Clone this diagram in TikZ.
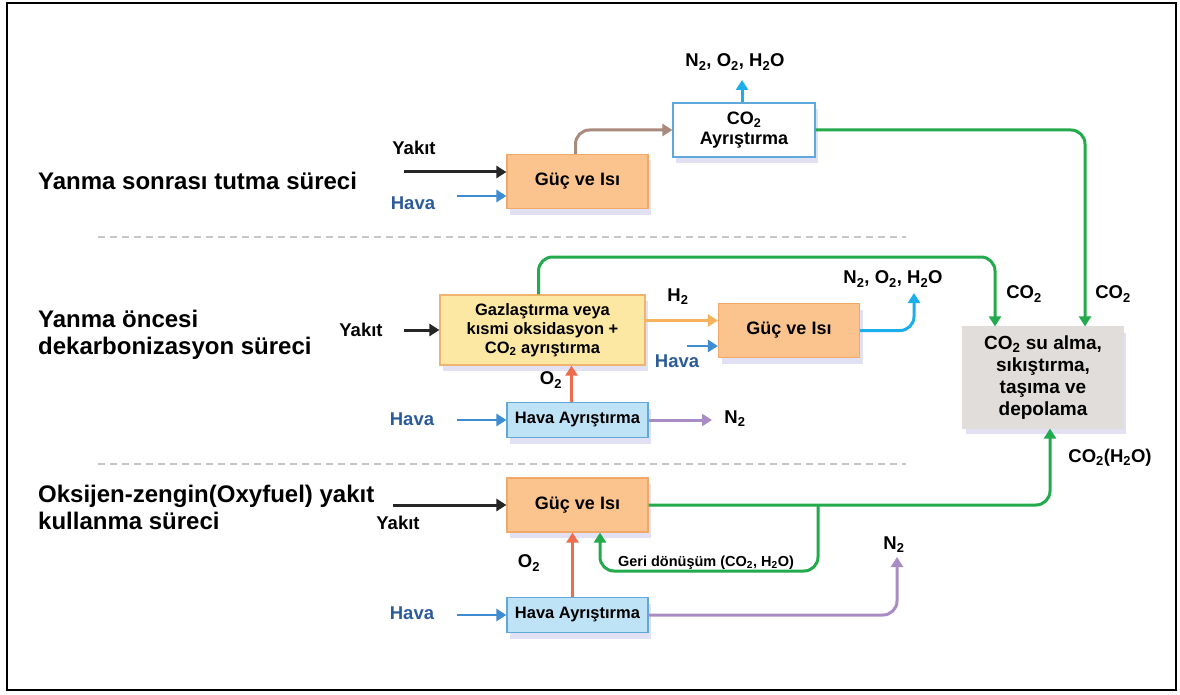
\documentclass[tikz,border=0pt]{standalone}
\usepackage{fontspec}
\setmainfont{Liberation Sans}
\usetikzlibrary{arrows.meta,shadows,calc}

\definecolor{boxorange}{HTML}{FBC48F}
\definecolor{edgeorange}{HTML}{F2A868}
\definecolor{boxyellow}{HTML}{FDE8A3}
\definecolor{edgeyellow}{HTML}{F0B46E}
\definecolor{boxblue}{HTML}{BFE3F6}
\definecolor{edgeblue}{HTML}{5FA8DA}
\definecolor{boxgray}{HTML}{E1DDDB}
\definecolor{flowgreen}{HTML}{22AA4C}
\definecolor{flowcyan}{HTML}{1CAEEA}
\definecolor{flowbrown}{HTML}{A98B7E}
\definecolor{flowh}{HTML}{F6B25C}
\definecolor{flowox}{HTML}{EE6C4D}
\definecolor{flowpurple}{HTML}{AA8CC4}
\definecolor{flowblue}{HTML}{3E8DD2}
\definecolor{havablue}{HTML}{2C5B99}
\definecolor{flowblack}{HTML}{262626}

\newcommand{\lo}[1]{\textsubscript{#1}}

\tikzset{
  unit/.style={draw, line width=1.2, inner sep=0pt, align=center,
    font=\bfseries\fontsize{18}{20}\selectfont,
    drop shadow={shadow xshift=3pt, shadow yshift=-6pt, opacity=0.16, fill=blue!45!gray}},
  power/.style={unit, fill=boxorange, draw=edgeorange, minimum width=141, minimum height=54},
  gasifier/.style={unit, fill=boxyellow, draw=edgeyellow, minimum width=205, minimum height=70,
    font=\bfseries\fontsize{16.5}{19}\selectfont},
  airsep/.style={unit, fill=boxblue, draw=edgeblue, minimum width=141, minimum height=35,
    font=\bfseries\fontsize{16.5}{18}\selectfont},
  separator/.style={unit, fill=white, draw=edgeblue, minimum width=142, minimum height=54},
  storage/.style={unit, fill=boxgray, draw=boxgray, minimum width=160, minimum height=101,
    font=\bfseries\fontsize{19}{22}\selectfont},
  lbl/.style={font=\bfseries\fontsize{18.5}{20}\selectfont, inner sep=1pt},
  hava/.style={lbl, text=havablue},
  section/.style={font=\bfseries\fontsize{24}{27}\selectfont, anchor=west, align=left, inner sep=0pt},
  flow/.style={line width=3, -{Triangle[width=12,length=10]}, rounded corners=14},
  divider/.style={gray!45, line width=1.2, dash pattern=on 7pt off 5pt},
}

\begin{document}
\begin{tikzpicture}[x=1pt, y=-1pt]
\useasboundingbox (0,0) rectangle (1180,695);
\fill[white] (0,0) rectangle (1180,695);
\draw[line width=2.5] (7,3) rectangle (1176,690);
\draw[line width=2] (7,3) -- (7,690);

% section titles
\node[section] (t1) at (38,181) {Yanma sonrası tutma süreci};
\node[section] (t2) at (38,335) {Yanma öncesi\\dekarbonizasyon süreci};
\node[section] (t3) at (38,507) {Oksijen-zengin(Oxyfuel) yakıt\\kullanma süreci};

% dividers
\coordinate (d1a) at (98,237); \coordinate (d1b) at (906,237);
\coordinate (d2a) at (98,464); \coordinate (d2b) at (906,464);
\draw[divider] (d1a) -- (d1b);
\draw[divider] (d2a) -- (d2b);

% ---- post-combustion ----
\node[power] (g1) at (577.5,181.5) {Güç ve Isı};
\node[separator] (sep) at (744,130) {CO\lo{2}\\Ayrıştırma};
\node[lbl] (top3) at (735,62) {N\lo{2}, O\lo{2}, H\lo{2}O};
\node[lbl] (yk1) at (414,148) {Yakıt};
\node[hava] (hv1) at (413,203) {Hava};
\coordinate (yk1s) at (404,172);
\coordinate (hv1s) at (457,196);
\coordinate (sepup) at (742,80);

% ---- pre-combustion ----
\node[gasifier] (gas) at (542.5,330) {Gazlaştırma veya\\kısmi oksidasyon +\\CO\lo{2} ayrıştırma};
\node[power] (g2) at (789,330.5) {Güç ve Isı};
\node[airsep] (ha1) at (577.5,420) {Hava Ayrıştırma};
\node[storage] (st) at (1043,377.5) {CO\lo{2} su alma,\\sıkıştırma,\\taşıma ve\\depolama};
\node[lbl] (yk2) at (361,330) {Yakıt};
\node[lbl] (h2) at (678,297) {H\lo{2}};
\node[hava] (hv2) at (677,361) {Hava};
\node[lbl] (mid3) at (893,279) {N\lo{2}, O\lo{2}, H\lo{2}O};
\node[lbl] (c1) at (1024,294) {CO\lo{2}};
\node[lbl] (c2) at (1113,294) {CO\lo{2}};
\node[lbl] (o2a) at (551,380) {O\lo{2}};
\node[hava] (hv3) at (412,419) {Hava};
\node[lbl] (n2a) at (735,419) {N\lo{2}};
\node[lbl] (cw) at (1110,458) {CO\lo{2}(H\lo{2}O)};
\coordinate (yk2s) at (404,330);
\coordinate (hv2s) at (687,346);
\coordinate (hv3s) at (457,420);
\coordinate (n2aend) at (712,420);
\coordinate (cyanup) at (914,293);
\coordinate (gtop) at (995,257);
\coordinate (rin) at (1085,130);

% ---- oxyfuel ----
\node[power] (g3) at (577.5,505) {Güç ve Isı};
\node[airsep] (ha2) at (577.5,615) {Hava Ayrıştırma};
\node[lbl] (yk3) at (398,523) {Yakıt};
\node[lbl] (o2b) at (529,563) {O\lo{2}};
\node[lbl, font=\bfseries\fontsize{14.5}{16}\selectfont] (rec) at (706,563) {Geri dönüşüm (CO\lo{2}, H\lo{2}O)};
\node[lbl] (n2b) at (894,545) {N\lo{2}};
\node[hava] (hv4) at (412,613) {Hava};
\coordinate (yk3s) at (393,505);
\coordinate (hv4s) at (457,615);
\coordinate (br) at (818,505);
\coordinate (recb) at (600,571);
\coordinate (n2bend) at (897,557);
\coordinate (bin) at (1050,505);

% ---- connectors: post-combustion ----
\draw[flow, flowblack] (yk1s) -- (yk1s -| g1.west);
\draw[flow, flowblue, line width=2.5] (hv1s) -- (hv1s -| g1.west);
\draw[flow, flowbrown] ($(g1.north)+(-2,0)$) |- (sep.west);
\draw[flow, flowcyan] (sep.north -| sepup) -- (sepup);
\draw[flow, flowgreen] (sep.east) -| (st.north -| rin);

% ---- connectors: pre-combustion ----
\draw[flow, flowblack] (yk2s) -- (gas.west);
\draw[flow, flowgreen] ($(gas.north)+(-4,0)$) |- (gtop) -- (st.north -| gtop);
\draw[flow, flowh] (gas.east |- g2.west) ++(0,-10) coordinate (hs) -- (hs -| g2.west);
\draw[flow, flowblue, line width=2.5] (hv2s) -- (hv2s -| g2.west);
\draw[flow, flowcyan] (g2.east) -| (cyanup);
\coordinate (o2up) at ($(ha1.north)+(-6,0)$);
\draw[flow, flowox] (o2up) -- (o2up |- gas.south);
\draw[flow, flowblue, line width=2.5] (hv3s) -- (ha1.west);
\draw[flow, flowpurple] (ha1.east) -- (n2aend);

% ---- connectors: oxyfuel ----
\draw[flow, flowblack] (yk3s) -- (g3.west);
\draw[flow, flowgreen] (g3.east) -| (st.south -| bin);
\draw[flow, flowgreen] (br) |- (recb) -- (recb |- g3.south);
\coordinate (o2up2) at ($(ha2.north)+(-5,0)$);
\draw[flow, flowox] (o2up2) -- (o2up2 |- g3.south);
\draw[flow, flowblue, line width=2.5] (hv4s) -- (ha2.west);
\draw[flow, flowpurple] (ha2.east) -| (n2bend);
\end{tikzpicture}
\end{document}
